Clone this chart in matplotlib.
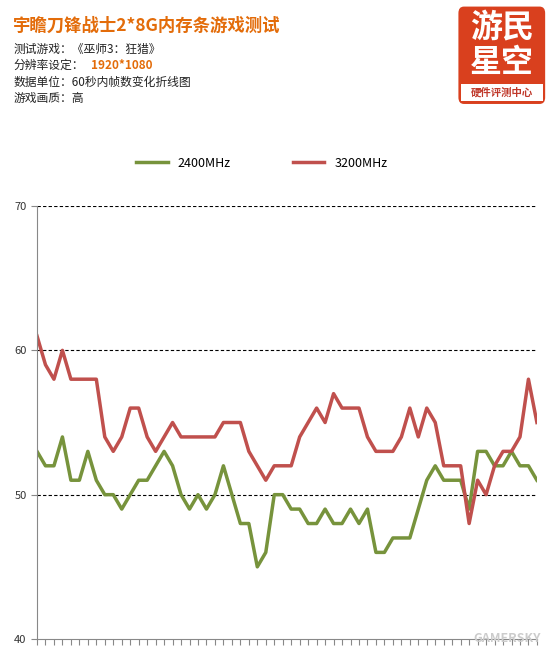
import matplotlib
matplotlib.use("Agg")
import matplotlib.pyplot as plt
from matplotlib.patches import FancyBboxPatch, Rectangle

plt.rcParams['font.family'] = ['Noto Sans CJK SC', 'DejaVu Sans']

seconds = list(range(60))
mhz2400 = [53,52,52,54,51,51,53,51,50,50,49,50,51,51,52,53,52,50,49,50,49,50,52,50,48,48,45,46,50,50,
           49,49,48,48,49,48,48,49,48,49,46,46,47,47,47,49,51,52,51,51,51,49,53,53,52,52,53,52,52,51]
mhz3200 = [61,59,58,60,58,58,58,58,54,53,54,56,56,54,53,54,55,54,54,54,54,54,55,55,55,53,52,51,52,52,
           52,54,55,56,55,57,56,56,56,54,53,53,53,54,56,54,56,55,52,52,52,48,51,50,52,53,53,54,58,55]
series_names = ["2400MHz", "3200MHz"]
yticks = [40, 50, 60, 70]

fig = plt.figure(figsize=(5.49, 6.58), dpi=100)
ax = fig.add_axes([0.0674, 0.0289, 0.9106, 0.658])
ax.plot(seconds, mhz2400, color='#77933c', lw=2.5, label=series_names[0])
ax.plot(seconds, mhz3200, color='#c0504d', lw=2.5, label=series_names[1])
ax.set_xlim(0, 59)
ax.set_ylim(40, 70)
ax.set_yticks(yticks)
ax.set_yticklabels([str(v) for v in yticks], fontsize=8, color='#333333')
ax.set_xticks(seconds)
ax.set_xticklabels([])
ax.tick_params(axis='x', length=4, color='#888888', direction='out')
ax.tick_params(axis='y', length=4, color='#888888', direction='out')
for v in yticks[1:]:
    ax.axhline(v, color='black', ls=(0, (3, 2)), lw=0.8, zorder=0)
for s in ['top', 'right']:
    ax.spines[s].set_visible(False)
ax.spines['left'].set_color('#888888')
ax.spines['bottom'].set_color('#888888')
ax.legend(loc='upper center', bbox_to_anchor=(0.45, 1.14), ncol=2, frameon=False,
          fontsize=9, handlelength=2.5, columnspacing=5)

fig.text(0.024, 0.953, "宇瞻刀锋战士2*8G内存条游戏测试", fontsize=12.5, fontweight='bold', color='#e36c0a')
fig.text(0.024, 0.920, "测试游戏：《巫师3：狂猎》", fontsize=8.5, color='#222222')
fig.text(0.024, 0.895, "分辨率设定：", fontsize=8.5, color='#222222')
fig.text(0.165, 0.895, "1920*1080", fontsize=8.5, color='#e36c0a', fontweight='bold')
fig.text(0.024, 0.870, "数据单位：60秒内帧数变化折线图", fontsize=8.5, color='#222222')
fig.text(0.024, 0.845, "游戏画质：高", fontsize=8.5, color='#222222')

# logo
lx, ly, lw_, lh = 0.835, 0.842, 0.158, 0.148
fig.patches.append(FancyBboxPatch((lx, ly), lw_, lh, boxstyle="round,pad=0,rounding_size=0.01",
                                  transform=fig.transFigure, facecolor='#d9401e', edgecolor='none'))
fig.patches.append(Rectangle((lx + 0.004, ly + 0.004), lw_ - 0.008, 0.026, transform=fig.transFigure,
                             facecolor='white', edgecolor='none'))
fig.text(lx + lw_/2, ly + 0.115, "游民", ha='center', va='center', fontsize=23, fontweight='bold', color='white')
fig.text(lx + lw_/2, ly + 0.062, "星空", ha='center', va='center', fontsize=23, fontweight='bold', color='white')
fig.text(lx + lw_/2, ly + 0.017, "硬件评测中心", ha='center', va='center', fontsize=7.5, fontweight='bold', color='#c0392b')

fig.text(0.985, 0.025, "GAMERSKY", ha='right', fontsize=9, color='#cccccc', fontweight='bold', style='italic')

fig.savefig("out.png", dpi=100, facecolor='white')
